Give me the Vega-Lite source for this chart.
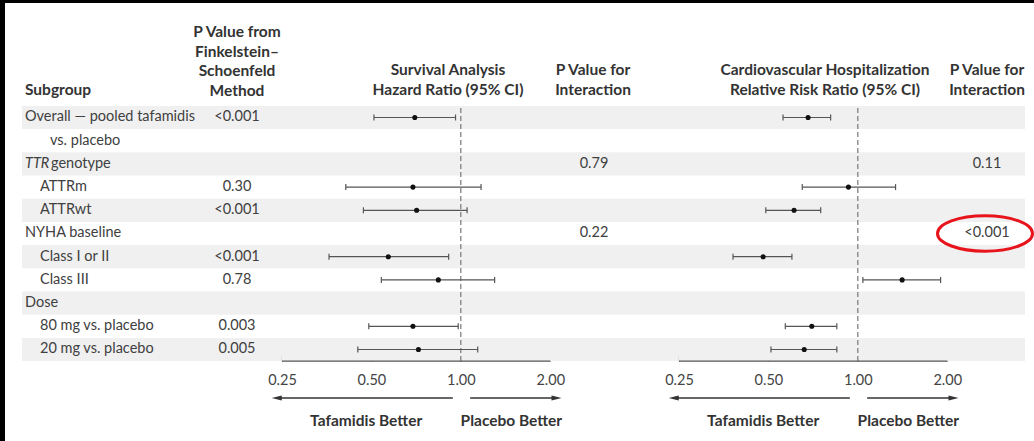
{
  "$schema": "https://vega.github.io/schema/vega-lite/v6.json",
  "background": "black",
  "padding": {"left": 5, "top": 3, "right": 0, "bottom": 0},
  "spacing": 0,
  "bounds": "flush",
  "config": {
    "view": {"stroke": null, "fill": "white"},
    "font": "Lato",
    "text": {"font": "Lato", "fontSize": 14.5, "color": "#404040"}
  },
  "datasets": {
    "rows": [
      {"line": 1, "label": "Overall — pooled tafamidis", "level": 0, "pfs": "<0.001", "hr": 0.70, "hrlo": 0.51, "hrhi": 0.96, "rr": 0.68, "rrlo": 0.56, "rrhi": 0.81},
      {"line": 2, "label": "vs. placebo", "level": 2},
      {"line": 3, "pre": "TTR", "label": "genotype", "level": 9, "pint1": "0.79", "pint2": "0.11"},
      {"line": 4, "label": "ATTRm", "level": 1, "pfs": "0.30", "hr": 0.69, "hrlo": 0.41, "hrhi": 1.17, "rr": 0.93, "rrlo": 0.65, "rrhi": 1.34},
      {"line": 5, "label": "ATTRwt", "level": 1, "pfs": "<0.001", "hr": 0.71, "hrlo": 0.47, "hrhi": 1.05, "rr": 0.61, "rrlo": 0.49, "rrhi": 0.75},
      {"line": 6, "label": "NYHA baseline", "level": 0, "pint1": "0.22", "pint2": "<0.001"},
      {"line": 7, "label": "Class I or II", "level": 1, "pfs": "<0.001", "hr": 0.57, "hrlo": 0.36, "hrhi": 0.91, "rr": 0.48, "rrlo": 0.38, "rrhi": 0.60},
      {"line": 8, "label": "Class III", "level": 1, "pfs": "0.78", "hr": 0.84, "hrlo": 0.54, "hrhi": 1.30, "rr": 1.41, "rrlo": 1.04, "rrhi": 1.90},
      {"line": 9, "label": "Dose", "level": 0},
      {"line": 10, "label": "80 mg vs. placebo", "level": 1, "pfs": "0.003", "hr": 0.69, "hrlo": 0.49, "hrhi": 0.98, "rr": 0.70, "rrlo": 0.57, "rrhi": 0.85},
      {"line": 11, "label": "20 mg vs. placebo", "level": 1, "pfs": "0.005", "hr": 0.72, "hrlo": 0.45, "hrhi": 1.14, "rr": 0.66, "rrlo": 0.51, "rrhi": 0.85}
    ]
  },
  "hconcat": [
    {
      "width": 277, "height": 438,
      "data": {"name": "rows"},
      "layer": [
        {"transform": [{"filter": "datum.line % 2 == 1"}],
         "mark": {"type": "rule", "strokeWidth": 23.2, "color": "#f0f0f0", "strokeCap": "butt"},
         "encoding": {"y": {"field": "line", "type": "quantitative", "scale": {"domain": [-3.935, 14.944], "reverse": true, "nice": false, "zero": false}, "axis": null},
                      "x": {"value": 17}, "x2": {"value": 277}}},
        {"transform": [{"filter": "datum.level == 0"}],
         "mark": {"type": "text", "align": "left", "baseline": "middle"},
         "encoding": {"y": {"field": "line", "type": "quantitative"}, "x": {"value": 20}, "text": {"field": "label"}}},
        {"transform": [{"filter": "datum.level == 1"}],
         "mark": {"type": "text", "align": "left", "baseline": "middle"},
         "encoding": {"y": {"field": "line", "type": "quantitative"}, "x": {"value": 35}, "text": {"field": "label"}}},
        {"transform": [{"filter": "datum.level == 2"}],
         "mark": {"type": "text", "align": "left", "baseline": "middle"},
         "encoding": {"y": {"field": "line", "type": "quantitative"}, "x": {"value": 45}, "text": {"field": "label"}}},
        {"transform": [{"filter": "datum.level == 9"}],
         "mark": {"type": "text", "align": "left", "baseline": "middle", "fontStyle": "italic"},
         "encoding": {"y": {"field": "line", "type": "quantitative"}, "x": {"value": 20}, "text": {"field": "pre"}}},
        {"transform": [{"filter": "datum.level == 9"}],
         "mark": {"type": "text", "align": "left", "baseline": "middle"},
         "encoding": {"y": {"field": "line", "type": "quantitative"}, "x": {"value": 46}, "text": {"field": "label"}}},
        {"transform": [{"filter": "isValid(datum.pfs)"}],
         "mark": {"type": "text", "align": "center", "baseline": "middle"},
         "encoding": {"y": {"field": "line", "type": "quantitative"}, "x": {"value": 232}, "text": {"field": "pfs"}}},
        {"data": {"values": [{}]},
         "mark": {"type": "text", "align": "left", "baseline": "alphabetic", "fontWeight": "bold", "fontSize": 15.5, "color": "#333", "text": "Subgroup"},
         "encoding": {"x": {"value": 20}, "y": {"value": 92}}},
        {"data": {"values": [{}]},
         "mark": {"type": "text", "align": "center", "baseline": "alphabetic", "fontWeight": "bold", "fontSize": 15.5, "color": "#333", "lineHeight": 19.5, "text": ["P Value from", "Finkelstein–", "Schoenfeld", "Method"]},
         "encoding": {"x": {"value": 232}, "y": {"value": 34}}}
      ]
    },
    {
      "width": 297, "height": 438,
      "data": {"name": "rows"},
      "layer": [
        {"transform": [{"filter": "datum.line % 2 == 1"}],
         "mark": {"type": "rule", "strokeWidth": 23.2, "color": "#f0f0f0", "strokeCap": "butt"},
         "encoding": {"y": {"field": "line", "type": "quantitative", "scale": {"domain": [-3.935, 14.944], "reverse": true, "nice": false, "zero": false}, "axis": null}}},
        {"data": {"values": [{}]},
         "mark": {"type": "rule", "color": "#777", "strokeDash": [5, 3], "strokeWidth": 1.2},
         "encoding": {"x": {"datum": 1, "type": "quantitative", "scale": {"type": "log", "base": 2, "domain": [0.25, 2.5], "nice": false},
                            "axis": {"values": [0.25, 0.5, 1, 2], "format": ".2f", "orient": "bottom", "offset": -80, "domain": false, "tickSize": -5, "labelPadding": 17.5, "grid": false, "tickColor": "#555", "tickWidth": 1.2, "labelColor": "#444", "labelFont": "Lato", "labelFontSize": 14.5, "title": null, "labelFlush": false, "labelOverlap": false}},
                      "y": {"datum": 0.59, "type": "quantitative"}, "y2": {"datum": 11.5}}},
        {"data": {"values": [{}]},
         "mark": {"type": "rule", "color": "#555", "strokeWidth": 1.2},
         "encoding": {"x": {"datum": 0.25}, "x2": {"datum": 2}, "y": {"datum": 11.5}}},
        {"transform": [{"filter": "isValid(datum.hr)"}],
         "mark": {"type": "rule", "color": "#555", "strokeWidth": 1.2},
         "encoding": {"x": {"field": "hrlo", "type": "quantitative", "title": null}, "x2": {"field": "hrhi"}, "y": {"field": "line", "type": "quantitative"}}},
        {"transform": [{"filter": "isValid(datum.hr)"}],
         "mark": {"type": "tick", "orient": "vertical", "color": "#555", "size": 6, "thickness": 1.2, "opacity": 1},
         "encoding": {"x": {"field": "hrlo", "type": "quantitative", "title": null}, "y": {"field": "line", "type": "quantitative"}}},
        {"transform": [{"filter": "isValid(datum.hr)"}],
         "mark": {"type": "tick", "orient": "vertical", "color": "#555", "size": 6, "thickness": 1.2, "opacity": 1},
         "encoding": {"x": {"field": "hrhi", "type": "quantitative", "title": null}, "y": {"field": "line", "type": "quantitative"}}},
        {"transform": [{"filter": "isValid(datum.hr)"}],
         "mark": {"type": "point", "filled": true, "color": "#111", "size": 26, "opacity": 1},
         "encoding": {"x": {"field": "hr", "type": "quantitative", "title": null}, "y": {"field": "line", "type": "quantitative"}}},
        {"data": {"values": [{}]},
         "mark": {"type": "rule", "color": "#333", "strokeWidth": 1.5},
         "encoding": {"x": {"datum": 0.94}, "x2": {"datum": 0.24}, "y": {"value": 395}}},
        {"data": {"values": [{}]},
         "mark": {"type": "rule", "color": "#333", "strokeWidth": 1.5},
         "encoding": {"x": {"datum": 1.075}, "x2": {"datum": 2.1}, "y": {"value": 395}}},
        {"data": {"values": [{}]},
         "mark": {"type": "point", "shape": "M-1,0L1,-0.5L1,0.5Z", "size": 100, "filled": true, "color": "#333", "opacity": 1},
         "encoding": {"x": {"datum": 0.24}, "y": {"value": 395}}},
        {"data": {"values": [{}]},
         "mark": {"type": "point", "shape": "M1,0L-1,-0.5L-1,0.5Z", "size": 100, "filled": true, "color": "#333", "opacity": 1},
         "encoding": {"x": {"datum": 2.1}, "y": {"value": 395}}},
        {"data": {"values": [{}]},
         "mark": {"type": "text", "align": "center", "baseline": "middle", "fontWeight": "bold", "fontSize": 15.5, "color": "#333", "text": "Tafamidis Better"},
         "encoding": {"x": {"datum": 0.48}, "y": {"value": 418}}},
        {"data": {"values": [{}]},
         "mark": {"type": "text", "align": "center", "baseline": "middle", "fontWeight": "bold", "fontSize": 15.5, "color": "#333", "text": "Placebo Better"},
         "encoding": {"x": {"datum": 1.48}, "y": {"value": 418}}},
        {"data": {"values": [{}]},
         "mark": {"type": "text", "align": "center", "baseline": "alphabetic", "fontWeight": "bold", "fontSize": 15.5, "color": "#333", "lineHeight": 19.5, "text": ["Survival Analysis", "Hazard Ratio (95% CI)"]},
         "encoding": {"x": {"value": 166}, "y": {"value": 72}}}
      ]
    },
    {
      "width": 100, "height": 438,
      "data": {"name": "rows"},
      "layer": [
        {"transform": [{"filter": "datum.line % 2 == 1"}],
         "mark": {"type": "rule", "strokeWidth": 23.2, "color": "#f0f0f0", "strokeCap": "butt"},
         "encoding": {"y": {"field": "line", "type": "quantitative", "scale": {"domain": [-3.935, 14.944], "reverse": true, "nice": false, "zero": false}, "axis": null}}},
        {"transform": [{"filter": "isValid(datum.pint1)"}],
         "mark": {"type": "text", "align": "center", "baseline": "middle"},
         "encoding": {"y": {"field": "line", "type": "quantitative"}, "x": {"value": 15}, "text": {"field": "pint1"}}},
        {"data": {"values": [{}]},
         "mark": {"type": "text", "align": "center", "baseline": "alphabetic", "fontWeight": "bold", "fontSize": 15.5, "color": "#333", "lineHeight": 19.5, "text": ["P Value for", "Interaction"]},
         "encoding": {"x": {"value": 14}, "y": {"value": 72}}}
      ]
    },
    {
      "width": 297, "height": 438,
      "data": {"name": "rows"},
      "layer": [
        {"transform": [{"filter": "datum.line % 2 == 1"}],
         "mark": {"type": "rule", "strokeWidth": 23.2, "color": "#f0f0f0", "strokeCap": "butt"},
         "encoding": {"y": {"field": "line", "type": "quantitative", "scale": {"domain": [-3.935, 14.944], "reverse": true, "nice": false, "zero": false}, "axis": null}}},
        {"data": {"values": [{}]},
         "mark": {"type": "rule", "color": "#777", "strokeDash": [5, 3], "strokeWidth": 1.2},
         "encoding": {"x": {"datum": 1, "type": "quantitative", "scale": {"type": "log", "base": 2, "domain": [0.25, 2.5], "nice": false},
                            "axis": {"values": [0.25, 0.5, 1, 2], "format": ".2f", "orient": "bottom", "offset": -80, "domain": false, "tickSize": -5, "labelPadding": 17.5, "grid": false, "tickColor": "#555", "tickWidth": 1.2, "labelColor": "#444", "labelFont": "Lato", "labelFontSize": 14.5, "title": null, "labelFlush": false, "labelOverlap": false}},
                      "y": {"datum": 0.59, "type": "quantitative"}, "y2": {"datum": 11.5}}},
        {"data": {"values": [{}]},
         "mark": {"type": "rule", "color": "#555", "strokeWidth": 1.2},
         "encoding": {"x": {"datum": 0.25}, "x2": {"datum": 2}, "y": {"datum": 11.5}}},
        {"transform": [{"filter": "isValid(datum.rr)"}],
         "mark": {"type": "rule", "color": "#555", "strokeWidth": 1.2},
         "encoding": {"x": {"field": "rrlo", "type": "quantitative", "title": null}, "x2": {"field": "rrhi"}, "y": {"field": "line", "type": "quantitative"}}},
        {"transform": [{"filter": "isValid(datum.rr)"}],
         "mark": {"type": "tick", "orient": "vertical", "color": "#555", "size": 6, "thickness": 1.2, "opacity": 1},
         "encoding": {"x": {"field": "rrlo", "type": "quantitative", "title": null}, "y": {"field": "line", "type": "quantitative"}}},
        {"transform": [{"filter": "isValid(datum.rr)"}],
         "mark": {"type": "tick", "orient": "vertical", "color": "#555", "size": 6, "thickness": 1.2, "opacity": 1},
         "encoding": {"x": {"field": "rrhi", "type": "quantitative", "title": null}, "y": {"field": "line", "type": "quantitative"}}},
        {"transform": [{"filter": "isValid(datum.rr)"}],
         "mark": {"type": "point", "filled": true, "color": "#111", "size": 26, "opacity": 1},
         "encoding": {"x": {"field": "rr", "type": "quantitative", "title": null}, "y": {"field": "line", "type": "quantitative"}}},
        {"data": {"values": [{}]},
         "mark": {"type": "rule", "color": "#333", "strokeWidth": 1.5},
         "encoding": {"x": {"datum": 0.94}, "x2": {"datum": 0.24}, "y": {"value": 395}}},
        {"data": {"values": [{}]},
         "mark": {"type": "rule", "color": "#333", "strokeWidth": 1.5},
         "encoding": {"x": {"datum": 1.075}, "x2": {"datum": 2.1}, "y": {"value": 395}}},
        {"data": {"values": [{}]},
         "mark": {"type": "point", "shape": "M-1,0L1,-0.5L1,0.5Z", "size": 100, "filled": true, "color": "#333", "opacity": 1},
         "encoding": {"x": {"datum": 0.24}, "y": {"value": 395}}},
        {"data": {"values": [{}]},
         "mark": {"type": "point", "shape": "M1,0L-1,-0.5L-1,0.5Z", "size": 100, "filled": true, "color": "#333", "opacity": 1},
         "encoding": {"x": {"datum": 2.1}, "y": {"value": 395}}},
        {"data": {"values": [{}]},
         "mark": {"type": "text", "align": "center", "baseline": "middle", "fontWeight": "bold", "fontSize": 15.5, "color": "#333", "text": "Tafamidis Better"},
         "encoding": {"x": {"datum": 0.48}, "y": {"value": 418}}},
        {"data": {"values": [{}]},
         "mark": {"type": "text", "align": "center", "baseline": "middle", "fontWeight": "bold", "fontSize": 15.5, "color": "#333", "text": "Placebo Better"},
         "encoding": {"x": {"datum": 1.48}, "y": {"value": 418}}},
        {"data": {"values": [{}]},
         "mark": {"type": "text", "align": "center", "baseline": "alphabetic", "fontWeight": "bold", "fontSize": 15.5, "color": "#333", "lineHeight": 19.5, "text": ["Cardiovascular Hospitalization", "Relative Risk Ratio (95% CI)"]},
         "encoding": {"x": {"value": 146}, "y": {"value": 72}}}
      ]
    },
    {
      "width": 58, "height": 438,
      "data": {"name": "rows"},
      "layer": [
        {"transform": [{"filter": "datum.line % 2 == 1"}],
         "mark": {"type": "rule", "strokeWidth": 23.2, "color": "#f0f0f0", "strokeCap": "butt"},
         "encoding": {"y": {"field": "line", "type": "quantitative", "scale": {"domain": [-3.935, 14.944], "reverse": true, "nice": false, "zero": false}, "axis": null},
                      "x": {"value": 0}, "x2": {"value": 49}}},
        {"transform": [{"filter": "isValid(datum.pint2)"}],
         "mark": {"type": "text", "align": "center", "baseline": "middle"},
         "encoding": {"y": {"field": "line", "type": "quantitative"}, "x": {"value": 11}, "text": {"field": "pint2"}}},
        {"transform": [{"filter": "datum.pint2 == '<0.001'"}],
         "mark": {"type": "point", "shape": "M-1,0A1,0.373,0,1,1,1,0A1,0.373,0,1,1,-1,0Z", "size": 9025, "filled": false, "stroke": "#e8141c", "strokeWidth": 3, "opacity": 1},
         "encoding": {"y": {"field": "line", "type": "quantitative"}, "x": {"value": 9}}},
        {"data": {"values": [{}]},
         "mark": {"type": "text", "align": "center", "baseline": "alphabetic", "fontWeight": "bold", "fontSize": 15.5, "color": "#333", "lineHeight": 19.5, "text": ["P Value for", "Interaction"]},
         "encoding": {"x": {"value": 11}, "y": {"value": 72}}}
      ]
    }
  ]
}
